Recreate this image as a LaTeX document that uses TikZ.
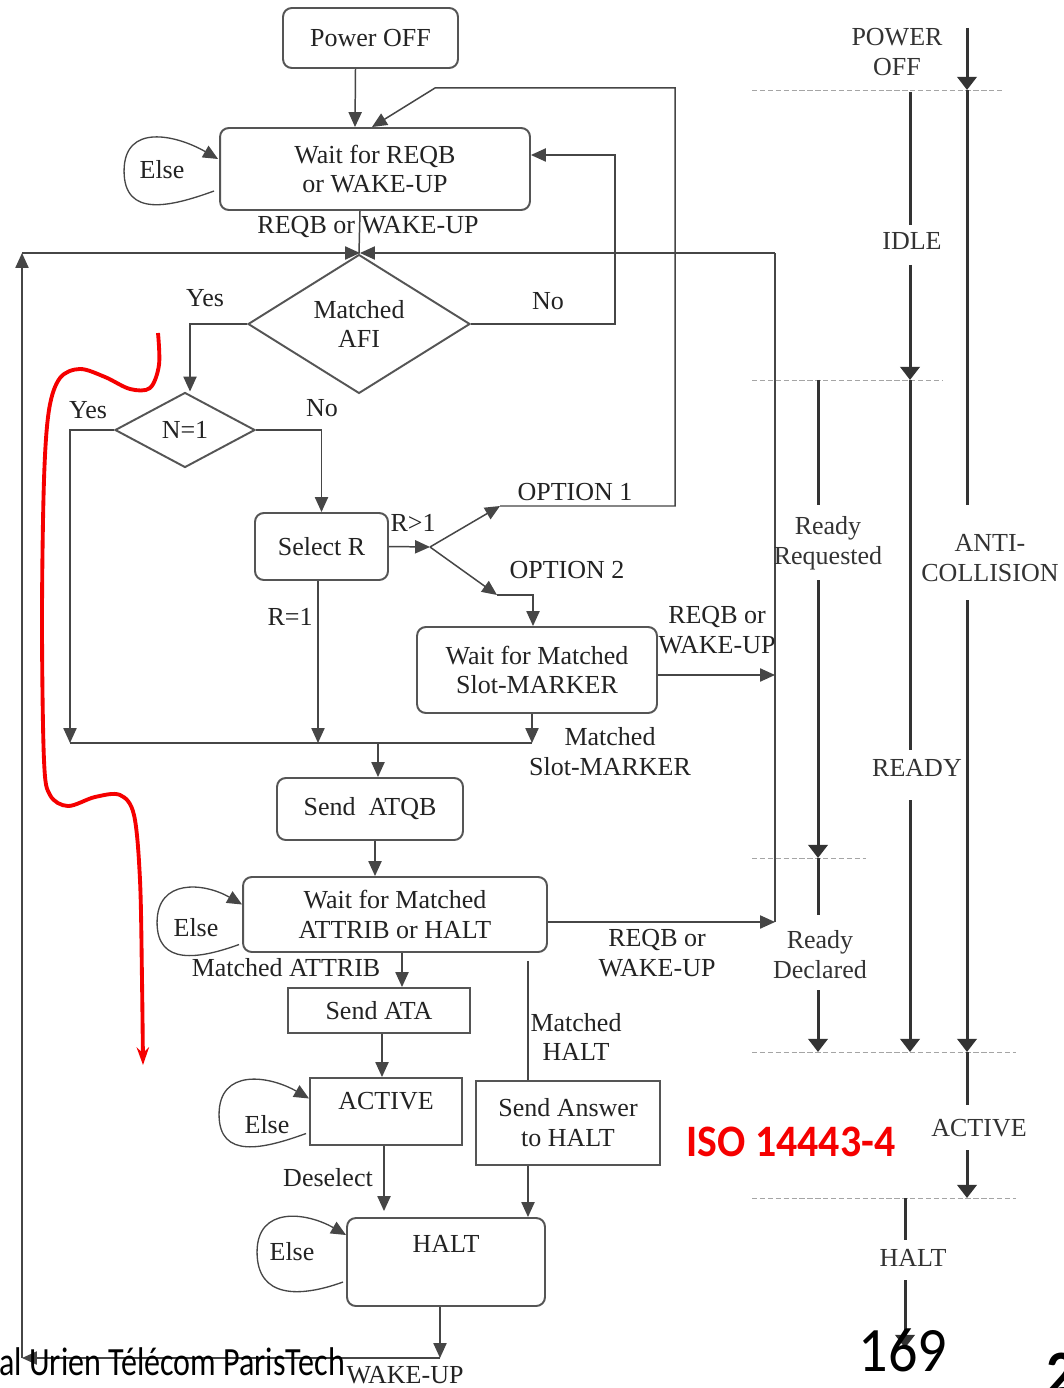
\documentclass[tikz,border=0pt]{standalone}
\usepackage{fontspec}
\setmainfont{Liberation Serif}
\newfontfamily\footfont[FakeStretch=0.8]{Carlito}
\newfontfamily\numfont[FakeStretch=0.92]{Carlito}
\newfontfamily\isofont[FakeStretch=0.93]{Carlito}
\usetikzlibrary{shapes.geometric,arrows.meta,positioning,calc}
\definecolor{linecol}{RGB}{70,70,70}
\definecolor{boxcol}{RGB}{85,85,85}
\definecolor{textcol}{RGB}{35,35,35}
\definecolor{sepcol}{RGB}{165,165,165}
\definecolor{isored}{RGB}{245,0,0}

\begin{document}
\begin{tikzpicture}[
    x=0.02cm, y=-0.02cm,
    every node/.style={font=\fontsize{14.8}{17}\selectfont, text=textcol},
    rbox/.style={draw=boxcol, line width=1.1pt, rounded corners=5pt, align=center, inner sep=0pt},
    sbox/.style={draw=boxcol, line width=1.1pt, align=center, inner sep=0pt},
    test/.style={diamond, draw=boxcol, line width=1.1pt, align=center, inner sep=0pt},
    lbl/.style={align=center, inner sep=0pt},
    flow/.style={draw=linecol, line width=0.85pt, -{Triangle[length=8.5pt,width=7.5pt]}},
    wire/.style={draw=linecol, line width=0.85pt},
    elseloop/.style={draw=linecol, line width=0.75pt, looseness=1.3, -{Triangle[length=8.5pt,width=7.5pt]}},
    sepline/.style={draw=sepcol, line width=0.5pt, dash pattern=on 3pt off 1.5pt},
    bar/.style={draw=black!80, line width=1.7pt, -{Triangle[length=7.5pt,width=11pt]}},
    barline/.style={draw=black!80, line width=1.7pt},
    statelbl/.style={align=center, inner sep=0pt, text=black!80},
    redpen/.style={draw=isored, line width=2.2pt, -{Stealth[length=10pt,width=7pt]}},
]
\useasboundingbox[fill=white] (0,0) rectangle (1063,1388);

% ============ FLOWCHART BOXES ============
\node[rbox, minimum width=3.5cm, minimum height=1.2cm] (poff) at (370.5,38) {Power OFF};
\node[rbox, minimum width=6.2cm, minimum height=1.64cm] (wreqb) at (375,169) {Wait for REQB\\or WAKE-UP};
\node[test, minimum width=4.44cm, minimum height=2.64cm] (afi) at (359,324) {Matched\\AFI};
\node[test, minimum width=2.8cm, minimum height=1.5cm] (none) at (185,430) {N=1};
\node[rbox, minimum width=2.66cm, minimum height=1.34cm] (selr) at (321.5,546.5) {Select R};
\node[rbox, minimum width=4.8cm, minimum height=1.72cm] (wslot) at (537,670) {Wait for Matched\\Slot-MARKER};
\node[rbox, minimum width=3.72cm, minimum height=1.24cm] (atqb) at (370,809) {Send\ \ ATQB};
\node[rbox, minimum width=6.08cm, minimum height=1.5cm] (wattr) at (395,914.5) {Wait for Matched\\ATTRIB or HALT};
\node[sbox, minimum width=3.64cm, minimum height=0.9cm] (ata) at (379,1010.5) {Send ATA};
\node[sbox, minimum width=3.04cm, minimum height=1.34cm, text depth=12pt] (active) at (386,1111.5) {ACTIVE};
\node[sbox, minimum width=3.68cm, minimum height=1.68cm] (sans) at (568,1123) {Send Answer\\to HALT};
\node[rbox, minimum width=3.96cm, minimum height=1.76cm, text depth=21pt] (halt) at (446,1262) {HALT};

% junction points
\coordinate (rjn) at (430,547);
\coordinate (opt1) at (500,506);
\coordinate (opt2) at (497,595);
\coordinate (jtop) at (360,253);
\coordinate (tl) at (22,253);
\coordinate (tr) at (775,253);
\coordinate (bl) at (22,1358);
\coordinate (wk) at (440,1358);
\coordinate (jl) at (70,743);
\coordinate (jr) at (532,743);
\coordinate (r1) at (318,743);
\coordinate (jq) at (378,743);
\coordinate (e2) at ($(wattr.east)+(0,7.5)$);
\coordinate (e1) at ($(wslot.east)+(0,5)$);

% ============ CONNECTORS ============
\draw[flow] ($(poff.south)+(-15,0)$) -- ($(wreqb.north)+(-20,0)$);
\draw[wire] ($(wreqb.south)+(-15,0)$) -- (afi.north);
\draw[flow] (tl) -- (jtop);
\draw[flow] (tr) -- (jtop);
\draw[wire] (tr) -- (e2 -| tr);
\draw[flow] (afi.east) -- (615,324) |- ($(wreqb.east)+(0,-14)$);
\draw[flow] (afi.west) -| ($(none.north)+(5,0)$);
\draw[flow] (none.west) -| (jl);
\draw[flow] (none.east) -| (selr.north);
\draw[flow] (selr.east) -- (rjn);
\draw[flow] (rjn) -- (opt1);
\draw[flow] (rjn) -- (opt2);
\draw[flow] (opt1) -- (675,506) -- (675,88) -- (435,88) -- ($(wreqb.north)+(-3,0)$);
\draw[flow] (opt2) -| ($(wslot.north)+(-4,0)$);
\draw[flow] (selr.south -| r1) -- (r1);
\draw[flow] (wslot.south -| jr) -- (jr);
\draw[flow] (e1) -- (e1 -| tr);
\draw[wire] (jl) -- (jr);
\draw[flow] (jq) -- (jq |- atqb.north);
\draw[flow] ($(atqb.south)+(5,0)$) -- ($(wattr.north)+(-20,0)$);
\draw[flow] (e2) -- (e2 -| tr);
\draw[flow] ($(wattr.south)+(7,0)$) -- ($(ata.north)+(23,0)$);
\draw[wire] ($(wattr.south)+(133,8)$) -- ($(sans.north)+(-40,0)$);
\draw[flow] ($(ata.south)+(3,0)$) -- ($(active.north)+(-4,0)$);
\draw[flow] ($(active.south)+(-2,0)$) -- ($(halt.north)+(-62,-6)$);
\draw[flow] ($(sans.south)+(-40,0)$) -- ($(halt.north)+(82,0)$);
\draw[flow] ($(halt.south)+(-6,0)$) -- (wk);
\draw[flow] (wk) -- (bl);
\draw[flow] (bl) -- (tl);

% ============ ELSE LOOPS ============
\draw[elseloop] ($(wreqb.west)+(-5,22)$) to[out=200,in=270] ($(wreqb.west)+(-95,2)$) to[out=90,in=150] ($(wreqb.west)+(-1,-10)$);
\draw[elseloop] ($(wattr.west)+(-3,30)$) to[out=200,in=270] ($(wattr.west)+(-85,8)$) to[out=90,in=150] ($(wattr.west)+(0,-10)$);
\draw[elseloop] ($(active.west)+(-3,22)$) to[out=200,in=270] ($(active.west)+(-90,3)$) to[out=90,in=150] ($(active.west)+(0,-13)$);
\draw[elseloop] ($(halt.west)+(-3,20)$) to[out=200,in=270] ($(halt.west)+(-89,-10)$) to[out=90,in=150] ($(halt.west)+(0,-27)$);
\node[lbl] (else1) at (162,170) {Else};
\node[lbl] (else2) at (196,928) {Else};
\node[lbl] (else3) at (267,1125) {Else};
\node[lbl] (else4) at (292,1252) {Else};

% ============ CONNECTOR LABELS ============
\node[lbl] (lreqb) at (368,227) {REQB or WAKE-UP};
\node[lbl] (lyes1) at (205,298) {Yes};
\node[lbl] (lno1) at (548,301) {No};
\node[lbl] (lyes2) at (88,410) {Yes};
\node[lbl] (lno2) at (322,408) {No};
\node[lbl] (lrgt) at (413,523) {R>1};
\node[lbl] (lopt1) at (575,492) {OPTION 1};
\node[lbl] (lopt2) at (567,570) {OPTION 2};
\node[lbl] (lreq1) at (290,617) {R=1};
\node[lbl] (lwake1) at (717,630) {REQB or\\WAKE-UP};
\node[lbl] (lslot) at (610,752) {Matched\\Slot-MARKER};
\node[lbl] (lwake2) at (657,953) {REQB or\\WAKE-UP};
\node[lbl] (lattr) at (286,968) {Matched ATTRIB};
\node[lbl] (lmhalt) at (576,1037) {Matched\\HALT};
\node[lbl] (ldesel) at (328,1178) {Deselect};
\node[lbl] (lwake3) at (405,1375) {WAKE-UP};

% ============ STATE COLUMN ============
\draw[sepline] (752,90) -- (1003,90);
\draw[sepline] (752,380) -- (943,380);
\draw[sepline] (752,858) -- (866,858);
\draw[sepline] (752,1052) -- (1016,1052);
\draw[sepline] (752,1198) -- (1016,1198);

\node[statelbl] (spoff) at (897,52) {POWER\\OFF};
\node[statelbl] (sidle) at (912,241) {IDLE};
\node[statelbl] (sreq) at (828,543) {Ready\\Requested};
\node[statelbl] (santi) at (990,558) {ANTI-\\COLLISION};
\node[statelbl] (sready) at (917,768) {READY};
\node[statelbl] (sdecl) at (820,955) {Ready\\Declared};
\node[statelbl] (sactive) at (979,1128) {ACTIVE};
\node[statelbl] (shalt) at (913,1258) {HALT};

% anti-collision column
\draw[bar] (967,28) -- (967,90);
\draw[barline] (967,90) -- (967,505);
\draw[bar] (967,600) -- (967,1052);
\draw[barline] (967,1052) -- (967,1105);
\draw[bar] (967,1150) -- (967,1198);
% idle / ready column
\draw[barline] (910,92) -- (910,225);
\draw[bar] (910,265) -- (910,380);
\draw[barline] (910,380) -- (910,750);
\draw[bar] (910,800) -- (910,1052);
% ready requested / declared column
\draw[barline] (818,380) -- (818,505);
\draw[bar] (818,580) -- (818,858);
\draw[barline] (818,858) -- (818,915);
\draw[bar] (818,990) -- (818,1052);
% halt column
\draw[barline] (905,1198) -- (905,1240);
\draw[bar] (905,1280) -- (905,1348);

% ============ SLIDE OVERLAYS ============
\draw[redpen] plot[smooth, tension=0.55] coordinates {(158,333) (159,365) (150,388) (130,389) (105,377) (80,369) (60,378) (49,410) (44,480) (42,620) (44,760) (50,795) (68,806) (95,797) (120,795) (134,815) (140,880) (142,980) (143,1065)};
\node[font=\isofont\bfseries\fontsize{25.6}{28}\selectfont, text=isored, inner sep=0pt] (iso) at (791,1142) {ISO 14443-4};
\node[font=\footfont\fontsize{22.8}{26}\selectfont, text=black, anchor=west, inner sep=0pt] (author) at (-1,1362) {al Urien Télécom ParisTech};
\node[font=\numfont\fontsize{36}{40}\selectfont, text=black, inner sep=0pt] (pageno) at (903,1350) {169};
\node[font=\numfont\bfseries\fontsize{36}{40}\selectfont, text=black, anchor=west, inner sep=0pt] (slideno) at (1046,1374) {2};

\end{tikzpicture}
\end{document}
